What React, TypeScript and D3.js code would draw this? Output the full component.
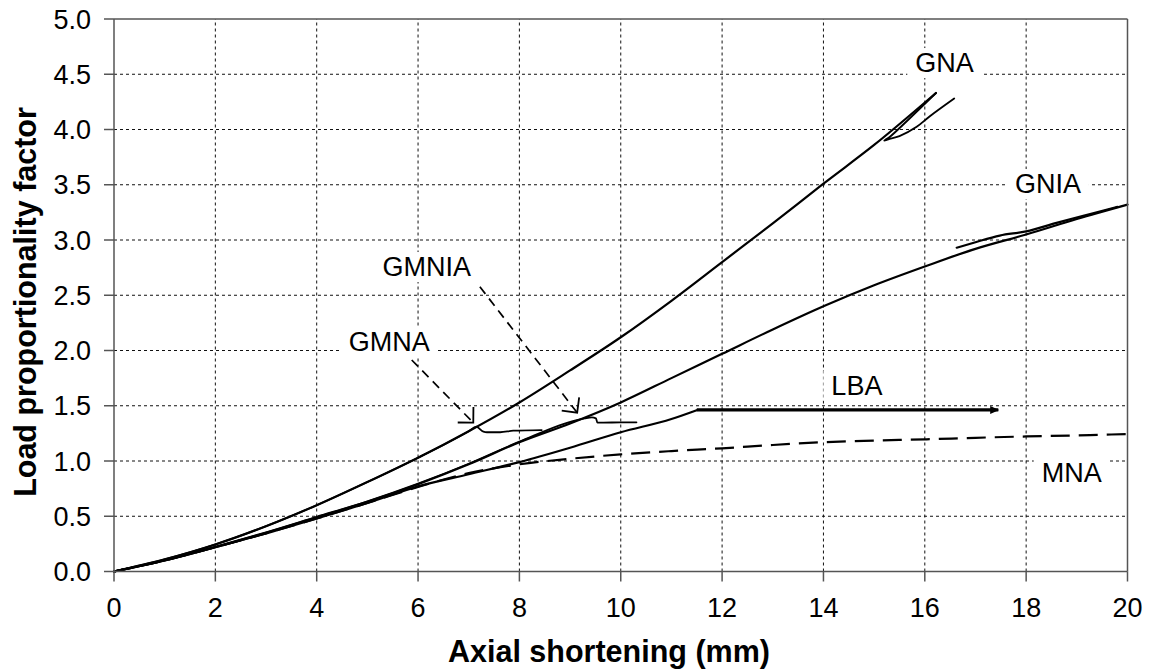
import React from 'react';
import * as d3 from 'd3';

const W = 1153;
const H = 671;

// Axis domains and ticks
const xDomain = [0, 20];
const yDomain = [0, 5];
const xTicks = [0, 2, 4, 6, 8, 10, 12, 14, 16, 18, 20];
const yTicks = [0, 0.5, 1, 1.5, 2, 2.5, 3, 3.5, 4, 4.5, 5];

// GNA (main path and snap-back branch)
const gnaX = [0, 1, 2, 3, 4, 5, 6, 7, 8, 9, 10, 11, 12, 13, 14, 15, 16.22];
const gnaY = [0, 0.11, 0.245, 0.41, 0.6, 0.81, 1.03, 1.27, 1.53, 1.82, 2.12, 2.45, 2.8, 3.15, 3.51, 3.86, 4.33];
const gnaSnapX = [16.22, 15.7, 15.3, 15.2, 15.28, 15.5, 15.84, 16.1, 16.58];
const gnaSnapY = [4.33, 4.1, 3.93, 3.9, 3.912, 3.94, 4.025, 4.12, 4.28];

// GNIA (main path and branch)
const gniaX = [0, 1, 2, 3, 4, 5, 6, 7, 8, 9, 10, 11, 12, 13, 14, 15, 16, 17, 18, 19, 20];
const gniaY = [0, 0.1, 0.22, 0.35, 0.49, 0.63, 0.79, 0.97, 1.17, 1.34, 1.53, 1.75, 1.97, 2.19, 2.4, 2.59, 2.76, 2.92, 3.05, 3.19, 3.32];
const gniaBranchX = [16.63, 17.0, 17.48, 18.0, 18.6, 19.3, 19.8];
const gniaBranchY = [2.93, 2.98, 3.04, 3.078, 3.155, 3.24, 3.3];

// GMNA
const gmnaX = [0, 1, 2, 3, 4, 5, 6, 7, 7.15, 7.29, 7.36, 7.62, 7.88, 8.44];
const gmnaY = [0, 0.11, 0.245, 0.41, 0.6, 0.81, 1.03, 1.27, 1.31, 1.265, 1.26, 1.26, 1.274, 1.28];

// GMNIA
const gmniaX = [0, 1, 2, 3, 4, 5, 6, 7, 8, 9.13, 9.29, 9.43, 9.51, 9.54, 9.66, 9.99, 10.31];
const gmniaY = [0, 0.1, 0.225, 0.355, 0.495, 0.635, 0.795, 0.975, 1.175, 1.371, 1.386, 1.395, 1.386, 1.347, 1.347, 1.35, 1.35];

// LBA
const lbaX = [0, 1, 2, 3, 4, 5, 6, 7, 8, 9, 10, 11, 11.5];
const lbaY = [0, 0.1, 0.22, 0.345, 0.48, 0.62, 0.77, 0.88, 0.99, 1.12, 1.26, 1.38, 1.46];
const lbaPlateauX = [11.5, 17.45];
const lbaPlateauY = [1.462, 1.462];

// MNA
const mnaX = [0, 1, 2, 3, 4, 5, 6, 7, 8, 9, 10, 11, 12, 13, 14, 15, 16, 17, 18, 19, 20];
const mnaY = [0, 0.1, 0.22, 0.345, 0.48, 0.62, 0.765, 0.89, 0.97, 1.02, 1.06, 1.09, 1.115, 1.145, 1.17, 1.185, 1.196, 1.21, 1.222, 1.232, 1.244];

// Curve labels
const labelText = ['GNA', 'GNIA', 'GMNIA', 'GMNA', 'LBA', 'MNA'];
const labelX = [16.39, 18.43, 6.17, 5.43, 14.66, 18.9];
const labelY = [4.52, 3.425, 2.674, 2.0, 1.597, 0.813];

// Annotation arrows (GMNA, GMNIA)
const arrowFromX = [5.875, 7.22];
const arrowFromY = [1.914, 2.577];
const arrowToX = [7.09, 9.14];
const arrowToY = [1.347, 1.437];

const FONT = '"Liberation Sans", Arial, Helvetica, sans-serif';

function measure(text: string, size: number, weight = 'normal') {
  const c = document.createElement('canvas');
  const ctx = c.getContext('2d');
  if (!ctx) return text.length * size * 0.6;
  ctx.font = `${weight} ${size}px ${FONT}`;
  return ctx.measureText(text).width;
}

const zip = (xs: number[], ys: number[]) => xs.map((x, i) => [x, ys[i]] as [number, number]);

export default function App() {
  const x = d3.scaleLinear().domain(xDomain).range([114, 1127.5]);
  const y = d3.scaleLinear().domain(yDomain).range([571.5, 19]);

  const smooth = d3
    .line<[number, number]>()
    .x((d) => x(d[0]))
    .y((d) => y(d[1]))
    .curve(d3.curveMonotoneX);
  const cat = d3
    .line<[number, number]>()
    .x((d) => x(d[0]))
    .y((d) => y(d[1]))
    .curve(d3.curveCatmullRom.alpha(0.5));
  const lin = d3
    .line<[number, number]>()
    .x((d) => x(d[0]))
    .y((d) => y(d[1]));

  const x0 = x(0), x1 = x(20), y0 = y(0), y1 = y(5);
  const frame = '#555';
  const labelSize = 27;

  return (
    <svg
      width={W}
      height={H}
      style={{ position: 'absolute', left: 0, top: 0, background: '#fff' }}
      fontFamily={FONT}
    >
      <defs>
        <marker id="lbaHead" markerUnits="userSpaceOnUse" viewBox="0 -5 10 10" refX={9} refY={0} markerWidth={11} markerHeight={9} orient="auto">
          <path d="M0,-4.5L10,0L0,4.5Z" fill="#000" />
        </marker>
        <marker id="openHead" markerUnits="userSpaceOnUse" viewBox="-16 -16 18 32" refX={0} refY={0} markerWidth={18} markerHeight={32} orient="auto">
          <path d="M-11,-11L0,0L-11,11" fill="none" stroke="#000" strokeWidth={1.8} />
        </marker>
      </defs>
      <rect x={0} y={0} width={W} height={H} fill="#fff" />

      {/* grid */}
      <g stroke="#111" strokeWidth={1} strokeDasharray="3,3" fill="none">
        {xTicks.filter((t) => t > 0 && t < 20).map((t) => (
          <line key={'gx' + t} x1={x(t)} x2={x(t)} y1={y0} y2={y1} />
        ))}
        {yTicks.filter((t) => t > 0 && t < 5).map((t) => (
          <line key={'gy' + t} x1={x0} x2={x1} y1={y(t)} y2={y(t)} />
        ))}
      </g>

      {/* label backgrounds */}
      {labelText.map((t, i) => {
        const w = measure(t, labelSize);
        return (
          <rect
            key={'lb' + t}
            x={x(labelX[i]) - w / 2 - 8}
            y={y(labelY[i]) - 24}
            width={w + 16}
            height={30}
            fill="#fff"
          />
        );
      })}

      {/* curves */}
      <g fill="none" stroke="#000" strokeWidth={2.2} strokeLinejoin="round" strokeLinecap="round">
        <path d={smooth(zip(mnaX, mnaY)) || ''} strokeDasharray="19,9" strokeLinecap="butt" />
        <path d={smooth(zip(lbaX, lbaY)) || ''} />
        <path d={lin(zip(lbaPlateauX, lbaPlateauY)) || ''} strokeWidth={3.2} markerEnd="url(#lbaHead)" strokeLinecap="butt" />
        <path d={smooth(zip(gniaX, gniaY)) || ''} />
        <path d={smooth(zip(gniaBranchX, gniaBranchY)) || ''} />
        <path d={smooth(zip(gmniaX, gmniaY)) || ''} strokeWidth={1.8} />
        <path d={smooth(zip(gnaX, gnaY)) || ''} />
        <path d={cat(zip(gnaSnapX, gnaSnapY)) || ''} strokeWidth={1.9} />
        <path d={smooth(zip(gmnaX, gmnaY)) || ''} strokeWidth={1.8} />
      </g>

      {/* annotation arrows */}
      <g fill="none" stroke="#000" strokeWidth={1.7} strokeDasharray="9,6">
        {arrowFromX.map((fx, i) => (
          <line
            key={'ar' + i}
            x1={x(fx)}
            y1={y(arrowFromY[i])}
            x2={x(arrowToX[i])}
            y2={y(arrowToY[i])}
            markerEnd="url(#openHead)"
          />
        ))}
      </g>

      {/* labels */}
      {labelText.map((t, i) => (
        <text key={'lt' + t} x={x(labelX[i])} y={y(labelY[i])} textAnchor="middle" fontSize={labelSize} fill="#000">
          {t}
        </text>
      ))}

      {/* frame */}
      <g stroke={frame} strokeWidth={1.5} fill="none">
        <line x1={x0} x2={x0} y1={y1} y2={y0} />
        <line x1={x0} x2={x1} y1={y0} y2={y0} />
        <line x1={x0} x2={x1} y1={y1} y2={y1} />
        <line x1={x1} x2={x1} y1={y1} y2={y0} />
        {yTicks.map((t) => (
          <line key={'ty' + t} x1={x0 - 10} x2={x0} y1={y(t)} y2={y(t)} />
        ))}
        {xTicks.map((t) => (
          <line key={'tx' + t} x1={x(t)} x2={x(t)} y1={y0} y2={y0 + 10} />
        ))}
      </g>

      {/* tick labels */}
      {yTicks.map((t) => (
        <text key={'yl' + t} x={91} y={y(t) + 9.6} textAnchor="end" fontSize={27} fill="#000">
          {d3.format('.1f')(t)}
        </text>
      ))}
      {xTicks.map((t) => (
        <text key={'xl' + t} x={x(t)} y={617} textAnchor="middle" fontSize={27} fill="#000">
          {t}
        </text>
      ))}

      {/* axis titles */}
      <text x={609} y={662} textAnchor="middle" fontSize={30.5} fontWeight="bold" fill="#000">
        Axial shortening (mm)
      </text>
      <text
        transform="translate(36,302) rotate(-90)"
        textAnchor="middle"
        fontSize={30.5}
        fontWeight="bold"
        fill="#000"
      >
        Load proportionality factor
      </text>
    </svg>
  );
}
